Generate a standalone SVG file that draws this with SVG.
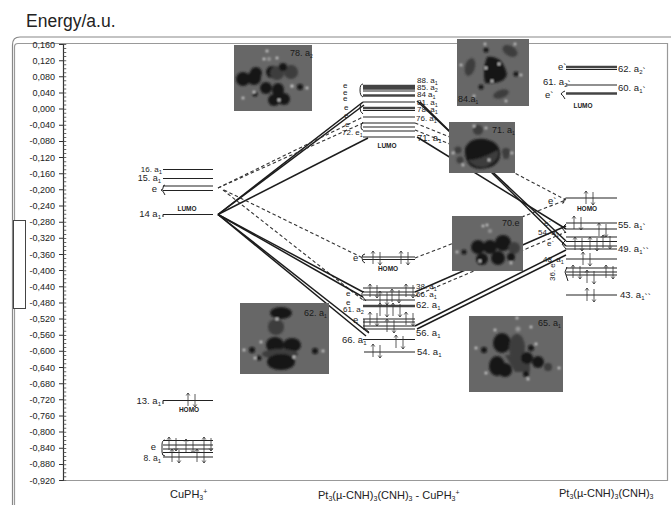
<svg xmlns="http://www.w3.org/2000/svg" xmlns:xlink="http://www.w3.org/1999/xlink" width="671" height="505" viewBox="0 0 671 505">
<style>
text{font-family:"Liberation Sans",Arial,sans-serif;fill:#222}
.ax{font-size:9px;text-anchor:end}
.lb{font-size:9.5px}
.dn{font-size:8px}
.sm{font-size:6.5px;font-weight:bold}
.col{font-size:11px}
.lv{stroke:#222;stroke-width:1.1;fill:none}
.th{stroke:#444;stroke-width:2.4;fill:none}
.br{stroke:#222;stroke-width:1;fill:none}
.ar{stroke:#333;stroke-width:.8;fill:none}
.s{stroke:#1c1c1c;stroke-width:1.5;fill:none}
.d{stroke:#333;stroke-width:1.1;stroke-dasharray:3.5 2.5;fill:none}
.img{fill:#676767}
.bk{fill:#181818}
.mg{fill:#3c3c3c}
.wh{fill:#e4e4e4}
.gr{fill:#999}
.il{font-size:9px;fill:#1a1a1a}
</style>
<defs>
<filter id="bl" x="-5%" y="-5%" width="110%" height="110%"><feGaussianBlur stdDeviation="1"/></filter>
<g id="ud"><path class="ar" d="M0 6V-7M-1.800 -4.500L0 -7L1.800 -4.500M7 -6V7M5.200 4.500L7 7L8.800 4.500"/></g>
</defs>

<g id="frame">
<path d="M671 37H20Q12.500 37 12.500 45V505" fill="none" stroke="#888" stroke-width="1.2"/>
<path d="M14.500 505V47Q14.500 43.500 18 43.500H667.500V480.500H63" fill="none" stroke="#999" stroke-width="1.2"/>
<rect x="13.500" y="220.500" width="12" height="88" fill="#fff" stroke="#444" stroke-width="1"/>
</g>
<text x="26" y="27" font-size="17.5">Energy/a.u.</text>

<g id="axis">
<path d="M63.500 44V481" stroke="#333" stroke-width="1.2" fill="none"/>
<path d="M61 44V481" stroke="#333" stroke-width="4" fill="none" stroke-dasharray="1 15.15"/>
<path d="M65 44V481" stroke="#666" stroke-width="2.500" fill="none" stroke-dasharray="1 3.04"/>
<text class="ax" x="55" y="47.500">0,160</text>
<text class="ax" x="55" y="63.600">0,120</text>
<text class="ax" x="55" y="79.800">0,080</text>
<text class="ax" x="55" y="95.900">0,040</text>
<text class="ax" x="55" y="112.100">0,000</text>
<text class="ax" x="55" y="128.300">-0,040</text>
<text class="ax" x="55" y="144.400">-0,080</text>
<text class="ax" x="55" y="160.600">-0,120</text>
<text class="ax" x="55" y="176.700">-0,160</text>
<text class="ax" x="55" y="192.900">-0,200</text>
<text class="ax" x="55" y="209">-0,240</text>
<text class="ax" x="55" y="225.200">-0,280</text>
<text class="ax" x="55" y="241.300">-0,320</text>
<text class="ax" x="55" y="257.500">-0,360</text>
<text class="ax" x="55" y="273.600">-0,400</text>
<text class="ax" x="55" y="289.800">-0,440</text>
<text class="ax" x="55" y="305.900">-0,480</text>
<text class="ax" x="55" y="322.100">-0,520</text>
<text class="ax" x="55" y="338.200">-0,560</text>
<text class="ax" x="55" y="354.400">-0,600</text>
<text class="ax" x="55" y="370.500">-0,640</text>
<text class="ax" x="55" y="386.700">-0,680</text>
<text class="ax" x="55" y="402.800">-0,720</text>
<text class="ax" x="55" y="419">-0,760</text>
<text class="ax" x="55" y="435.100">-0,800</text>
<text class="ax" x="55" y="451.300">-0,840</text>
<text class="ax" x="55" y="467.400">-0,880</text>
<text class="ax" x="55" y="483.600">-0,920</text>
</g>

<g id="connectors">
<path class="s" d="M218 214.500L363 102"/>
<path class="s" d="M218 214.500L364 105"/>
<path class="s" d="M218 214.500L368 138"/>
<path class="d" d="M218 188L363 117"/>
<path class="d" d="M218 188L363 123"/>
<path class="d" d="M223 190L363 300"/>
<path class="d" d="M224 190L363 258"/>
<path class="s" d="M218 214.500L363 292"/>
<path class="s" d="M218 214.500L363 297"/>
<path class="s" d="M218 214.500L369 333"/>
<path class="s" d="M218 214.500L366 336"/>
<path class="s" d="M417 101L566 241"/>
<path class="s" d="M417 137L566 229"/>
<path class="s" d="M420 102L566 246"/>
<path class="d" d="M415 123L470 145"/>
<path class="d" d="M415 130L470 152"/>
<path class="d" d="M505 168L566 200"/>
<path class="d" d="M415 258L566 200"/>
<path class="s" d="M415 292L566 226"/>
<path class="d" d="M415 296L566 232"/>
<path class="s" d="M415 326L566 250"/>
<path class="s" d="M417 329L566 255"/>
</g>

<g id="level-16a1"><path class="lv" d="M163 169.500H213"/><text x="162" y="171.500" text-anchor="end" font-size="8">16. a<tspan font-size="6" dy="2">1</tspan></text></g>
<g id="level-15a1"><path class="lv" d="M163 178.500H213"/><text x="161" y="181" text-anchor="end" font-size="9">15. a<tspan font-size="6" dy="2">1</tspan></text></g>
<g id="level-e-left"><path class="lv" d="M163 186H213M163 190.500H213"/><path class="br" d="M165 185Q163 185 163 188Q163 190 161 190Q163 190 165 195"/><text class="lb" x="157" y="192" text-anchor="end">e</text></g>
<g id="level-14a1"><path class="lv" d="M163 214.500H213M163 214.500V217"/><text class="lb" x="161" y="217" text-anchor="end">14 a<tspan font-size="6" dy="2">1</tspan></text><text class="sm" x="187" y="211" text-anchor="middle">LUMO</text></g>
<g id="level-13a1"><path class="lv" d="M163 400.500H213M163 400.500V404"/><use xlink:href="#ud" x="188" y="400"/><text class="lb" x="161" y="404" text-anchor="end">13. a<tspan font-size="6" dy="2">1</tspan></text><text class="sm" x="189" y="412" text-anchor="middle">HOMO</text></g>
<g id="level-e-8a1-left"><path class="lv" d="M163 440.500H213M163 445H213M163 449H213M163 452.500H213M163 457H213"/><path class="br" d="M165 440Q162 440 162 445V452Q162 456 165 456"/>
<use xlink:href="#ud" x="169" y="444"/><use xlink:href="#ud" x="186" y="446"/><use xlink:href="#ud" x="204" y="444"/><use xlink:href="#ud" x="172" y="456"/><use xlink:href="#ud" x="197" y="456"/>
<text class="lb" x="156" y="450" text-anchor="end">e</text><text x="161" y="461" text-anchor="end" font-size="8.500">8. a<tspan font-size="6" dy="2">1</tspan></text></g>

<g id="levels-top-mid"><path class="th" d="M363 86H415M363 88.500H415"/><path class="lv" d="M363 91H415"/><path class="th" d="M363 95.500H415"/><path class="lv" d="M363 102H415"/><path class="th" d="M363 108H415"/><path class="lv" d="M363 110.500H415M363 117H415M363 123H415M363 127H415M363 131H415M363 137H415"/>
<path class="br" d="M363 84Q360 84 360 90T363 97M363 102Q360 104 360 108T363 114M363 122Q361 124 361 127T363 130"/>
<text class="dn" x="343" y="88">e</text><text class="dn" x="343" y="95">e</text><text class="dn" x="343" y="101">e</text><text class="dn" x="344" y="110">e</text><text class="dn" x="344" y="118">e</text><text class="dn" x="345" y="127">e</text><text class="dn" x="342" y="135">72. e<tspan font-size="5.500" dy="2">1</tspan></text>
<text class="dn" x="417" y="83">88. a<tspan font-size="5.500" dy="2">1</tspan></text><text class="dn" x="417" y="90">85. a<tspan font-size="5.500" dy="2">2</tspan></text><text class="dn" x="417" y="97">84 a<tspan font-size="5.500" dy="2">1</tspan></text><text class="dn" x="417" y="105">81. a<tspan font-size="5.500" dy="2">1</tspan></text><text class="dn" x="417" y="112">78. a<tspan font-size="5.500" dy="2">1</tspan></text><text class="dn" x="416" y="121">76. a<tspan font-size="5.500" dy="2">1</tspan></text><text x="417" y="141" font-size="9.500">71. a<tspan font-size="6" dy="2">1</tspan></text>
<text class="sm" x="387" y="147.500" text-anchor="middle">LUMO</text></g>

<g id="level-10mo"><path class="lv" d="M363 257H415M363 259.500H415"/><path class="br" d="M365 254Q362 254 362 258T365 263"/><use xlink:href="#ud" x="373" y="258"/><use xlink:href="#ud" x="401" y="258"/><text class="lb" x="353" y="261">e</text><text class="sm" x="388" y="271" text-anchor="middle">HOMO</text></g>

<g id="levels-low-mid"><path class="lv" d="M363 288H415M363 292H415M363 295H415M363 300H415"/><path class="th" d="M363 306H415"/><path class="lv" d="M363 319H415M363 322H415M363 326H415M363 329H415"/>
<use xlink:href="#ud" x="370" y="291"/><use xlink:href="#ud" x="380" y="298"/><use xlink:href="#ud" x="392" y="296"/><use xlink:href="#ud" x="406" y="291"/><use xlink:href="#ud" x="380" y="310"/><use xlink:href="#ud" x="393" y="310"/>
<use xlink:href="#ud" x="370" y="319"/><use xlink:href="#ud" x="387" y="326"/><use xlink:href="#ud" x="406" y="319"/>
<path class="br" d="M364 291Q361 293 362 296L366 301M364 319V328L369 332"/>
<text class="dn" x="416" y="289">38. a<tspan font-size="5.500" dy="2">1</tspan></text><text class="dn" x="416" y="297">66. a<tspan font-size="5.500" dy="2">1</tspan></text><text x="416" y="308" font-size="9.500">62. a<tspan font-size="6" dy="2">1</tspan></text><text class="dn" x="346" y="296">e</text><text class="dn" x="346" y="305">e</text><text class="dn" x="343" y="312">61. a<tspan font-size="5.500" dy="2">2</tspan></text><text class="lb" x="353" y="323">e</text><text class="lb" x="416" y="336">56. a<tspan font-size="6" dy="2">1</tspan></text><text class="lb" x="342" y="343">66. a<tspan font-size="6" dy="2">1</tspan></text></g>

<g id="level-66a1"><path class="lv" d="M363 339.500H415"/><use xlink:href="#ud" x="396" y="342"/></g>
<g id="level-54a1"><path class="lv" d="M364 352H415"/><use xlink:href="#ud" x="373" y="351"/><text class="lb" x="417" y="355">54. a<tspan font-size="6" dy="2">1</tspan></text></g>

<g id="levels-right-top"><path class="th" d="M566 67H617"/><path class="lv" d="M566 69.500H617M566 85H617"/><path class="th" d="M566 93.500H617"/>
<path class="br" d="M565 91Q562 92 561 94Q563 95 565 99"/>
<text class="lb" x="558" y="70">e`</text><text class="lb" x="618" y="72">62. a<tspan font-size="6" dy="2">2</tspan>`</text><text class="lb" x="543" y="85">61. a<tspan font-size="6" dy="2">2</tspan>`</text><text class="lb" x="618" y="91">60. a<tspan font-size="6" dy="2">1</tspan>`</text><text class="lb" x="545" y="98">e`</text>
<text class="sm" x="583" y="108" text-anchor="middle">LUMO</text></g>

<g id="level-homo-right"><path class="lv" d="M566 198H617"/><path class="br" d="M566 198Q564 198 564 201T562 203"/><use xlink:href="#ud" x="586" y="198"/><text class="lb" x="548" y="204">e`</text><text class="sm" x="587" y="211" text-anchor="middle">HOMO</text></g>

<g id="levels-mid-right"><path class="lv" d="M566 223H617M566 229H617"/><path class="lv" d="M566 237H617M566 241.500H617M566 246H617M566 249H617M566 259H617"/>
<use xlink:href="#ud" x="574" y="223"/><use xlink:href="#ud" x="599" y="230"/><use xlink:href="#ud" x="575" y="244"/><use xlink:href="#ud" x="590" y="244"/><use xlink:href="#ud" x="603" y="242"/><use xlink:href="#ud" x="583" y="259"/>
<path class="br" d="M566 224L562 228L566 233M566 240L562 244L566 249"/>
<text class="lb" x="618" y="228">55. a<tspan font-size="6" dy="2">1</tspan>`</text><text class="dn" x="544" y="226">e`</text><text class="dn" x="538" y="235">54. a<tspan font-size="5.500" dy="2">1</tspan></text><text class="dn" x="547" y="246">e`</text><text class="lb" x="618" y="252">49. a<tspan font-size="6" dy="2">1</tspan>``</text><text class="dn" x="543" y="262">48. a<tspan font-size="5.500" dy="2">1</tspan></text></g>

<g id="levels-low-right"><path class="lv" d="M566 268H617M566 272H617M566 275H617"/><use xlink:href="#ud" x="573" y="272"/><use xlink:href="#ud" x="587" y="277"/><use xlink:href="#ud" x="606" y="272"/><path class="br" d="M567 267L565 272L568 281"/><text transform="translate(555 281) rotate(-90)" font-size="8">36. e``</text></g>
<g id="level-43a1"><path class="lv" d="M566 295H617"/><use xlink:href="#ud" x="587" y="295"/><text class="lb" x="620" y="298">43. a<tspan font-size="6" dy="2">1</tspan>``</text></g>

<g id="orbital-78a2">
<rect class="img" x="234" y="45" width="78" height="66"/>
<g filter="url(#bl)">
<circle class="mg" cx="291" cy="72" r="7"/><circle class="bk" cx="243" cy="79" r="7"/><circle class="bk" cx="254" cy="78" r="7"/><circle class="bk" cx="256" cy="73" r="6"/><circle class="bk" cx="272" cy="72" r="6"/><circle class="mg" cx="277" cy="73" r="7"/><circle class="bk" cx="283" cy="67" r="4"/><ellipse class="bk" cx="278" cy="90" rx="6" ry="7"/><circle class="bk" cx="266" cy="88" r="6"/><circle class="bk" cx="284" cy="99" r="6"/><circle class="bk" cx="274" cy="100" r="6"/><circle class="bk" cx="300" cy="87" r="3"/><circle class="bk" cx="255" cy="94" r="2.500"/><circle class="gr" cx="269" cy="59" r="2"/><circle class="wh" cx="267" cy="51" r="1.300"/><circle class="wh" cx="277" cy="58" r="1.300"/><circle class="wh" cx="264" cy="59" r="1.300"/><circle class="wh" cx="292" cy="86" r="1.500"/><circle class="wh" cx="307" cy="88" r="1.300"/><circle class="wh" cx="243" cy="98" r="1.300"/><circle class="wh" cx="254" cy="92" r="1.300"/><circle class="wh" cx="279" cy="100" r="1.300"/>
</g>
<text class="il" x="290" y="56" font-size="8">78. a<tspan font-size="5" dy="2">2</tspan></text>
</g>

<g id="orbital-84a1">
<rect class="img" x="457" y="39" width="72" height="67"/>
<g filter="url(#bl)">
<path class="bk" d="M487 57Q503 55 507 75Q503 85 485 83Q482 70 487 57Z"/>
<ellipse class="mg" cx="470" cy="67" rx="5" ry="9" transform="rotate(15 470 67)"/>
<ellipse class="mg" cx="510" cy="51" rx="8" ry="5" transform="rotate(30 510 51)"/>
<ellipse class="mg" cx="501" cy="94" rx="8" ry="4" transform="rotate(-20 501 94)"/>
<circle class="bk" cx="486" cy="50" r="2.500"/><circle class="bk" cx="516" cy="74" r="2.500"/><circle class="bk" cx="481" cy="87" r="2.500"/>
<circle class="wh" cx="485" cy="44" r="1.200"/><circle class="wh" cx="515" cy="44" r="1.200"/><circle class="wh" cx="461" cy="65" r="1.200"/><circle class="wh" cx="474" cy="96" r="1.200"/><circle class="wh" cx="506" cy="101" r="1.200"/><circle class="wh" cx="521" cy="75" r="1.200"/><circle class="wh" cx="499" cy="64" r="1.200"/><circle class="wh" cx="486" cy="68" r="1.200"/><circle class="wh" cx="492" cy="81" r="1.200"/>
</g>
<text class="il" x="458" y="102" font-size="9">84.a<tspan font-size="5" dy="2">1</tspan></text>
</g>

<g id="orbital-71a1">
<rect class="img" x="449" y="122" width="66" height="51"/>
<g filter="url(#bl)">
<path class="bk" d="M465 148Q470 137 485 139Q501 142 500 156Q498 168 480 169Q464 168 465 148Z"/>
<path class="mg" d="M468 160Q480 160 498 150Q500 162 484 167Q474 168 468 160Z"/>
<circle class="mg" cx="478" cy="130" r="5"/><circle class="mg" cx="458" cy="150" r="3.500"/><circle class="mg" cx="460" cy="160" r="3.500"/><circle class="mg" cx="506" cy="152" r="4"/><circle class="mg" cx="506" cy="156" r="3"/>
<circle class="wh" cx="474" cy="126" r="1.200"/><circle class="wh" cx="486" cy="128" r="1.200"/><circle class="wh" cx="453" cy="153" r="1.200"/><circle class="wh" cx="512" cy="153" r="1.200"/><circle class="wh" cx="489" cy="160" r="1.200"/><circle class="wh" cx="463" cy="165" r="1.200"/>
</g>
<text class="il" x="492" y="133" font-size="9">71. a<tspan font-size="5" dy="2">1</tspan></text>
</g>

<g id="orbital-70e">
<rect class="img" x="452" y="216" width="71" height="55"/>
<g filter="url(#bl)">
<circle class="bk" cx="478" cy="247" r="7"/><circle class="bk" cx="490" cy="247" r="7"/><circle class="bk" cx="503" cy="243" r="8"/><circle class="mg" cx="514" cy="248" r="6"/><circle class="bk" cx="482" cy="259" r="6"/><circle class="bk" cx="498" cy="258" r="7"/><circle class="bk" cx="511" cy="257" r="4"/><circle class="bk" cx="464" cy="252" r="2.500"/><circle class="gr" cx="490" cy="231" r="2"/><circle class="wh" cx="487" cy="225" r="1.200"/><circle class="wh" cx="483" cy="226" r="1.200"/><circle class="wh" cx="457" cy="252" r="1.200"/><circle class="wh" cx="480" cy="261" r="1.200"/><circle class="wh" cx="511" cy="263" r="1.200"/>
</g>
<text class="il" x="502" y="226" font-size="9">70.e</text>
</g>

<g id="orbital-65a1">
<rect class="img" x="469" y="316" width="94" height="76"/>
<g filter="url(#bl)">
<ellipse class="bk" cx="502" cy="343" rx="9" ry="10"/><ellipse class="mg" cx="517" cy="348" rx="8" ry="14"/><ellipse class="bk" cx="497" cy="366" rx="8" ry="10"/><ellipse class="bk" cx="505" cy="370" rx="7" ry="7"/><path class="mg" d="M505 355H530V372H515Z"/><circle class="bk" cx="527" cy="358" r="6"/><circle class="bk" cx="538" cy="362" r="6"/><circle class="mg" cx="548" cy="367" r="4"/><circle class="bk" cx="484" cy="350" r="3"/><circle class="bk" cx="531" cy="348" r="3"/><circle class="bk" cx="526" cy="374" r="3"/><circle class="gr" cx="518" cy="329" r="2.500"/><circle class="wh" cx="517" cy="318" r="1.300"/><circle class="wh" cx="495" cy="330" r="1.300"/><circle class="wh" cx="531" cy="327" r="1.300"/><circle class="wh" cx="476" cy="348" r="1.300"/><circle class="wh" cx="536" cy="344" r="1.300"/><circle class="wh" cx="559" cy="368" r="1.300"/><circle class="wh" cx="486" cy="373" r="1.300"/><circle class="wh" cx="528" cy="379" r="1.300"/>
</g>
<text class="il" x="538" y="326" font-size="9">65. a<tspan font-size="5" dy="2">1</tspan></text>
</g>

<g id="orbital-62a1">
<rect class="img" x="240" y="303" width="89" height="71"/>
<g filter="url(#bl)">
<ellipse class="bk" cx="281" cy="313" rx="11" ry="6"/><ellipse class="mg" cx="276" cy="327" rx="8" ry="8"/><ellipse class="bk" cx="275" cy="345" rx="9" ry="8"/><ellipse class="bk" cx="292" cy="345" rx="9" ry="7"/><ellipse class="mg" cx="280" cy="354" rx="18" ry="5"/><ellipse class="bk" cx="281" cy="362" rx="14" ry="8"/><circle class="bk" cx="252" cy="350" r="3"/><circle class="bk" cx="315" cy="351" r="3"/><circle class="bk" cx="259" cy="358" r="2.500"/><circle class="wh" cx="244" cy="350" r="1.300"/><circle class="wh" cx="323" cy="351" r="1.300"/><circle class="wh" cx="255" cy="358" r="1.300"/><circle class="wh" cx="261" cy="342" r="1.300"/><circle class="wh" cx="294" cy="357" r="1.300"/><circle class="wh" cx="277" cy="319" r="1.300"/>
</g>
<text class="il" x="304" y="316" font-size="8.500">62. a<tspan font-size="5" dy="2">1</tspan></text>
</g>

<g id="column-labels">
<text class="col" x="170" y="498">CuPH<tspan font-size="7" dy="2">3</tspan><tspan font-size="7" dy="-6">+</tspan></text>
<text class="col" x="318" y="499">Pt<tspan font-size="7" dy="2">3</tspan><tspan dy="-2">(µ-CNH)</tspan><tspan font-size="7" dy="2">3</tspan><tspan dy="-2">(CNH)</tspan><tspan font-size="7" dy="2">3</tspan><tspan dy="-2"> - CuPH</tspan><tspan font-size="7" dy="2">3</tspan><tspan font-size="7" dy="-6">+</tspan></text>
<text class="col" x="559" y="497">Pt<tspan font-size="7" dy="2">3</tspan><tspan dy="-2">(µ-CNH)</tspan><tspan font-size="7" dy="2">3</tspan><tspan dy="-2">(CNH)</tspan><tspan font-size="7" dy="2">3</tspan></text>
</g>
</svg>
